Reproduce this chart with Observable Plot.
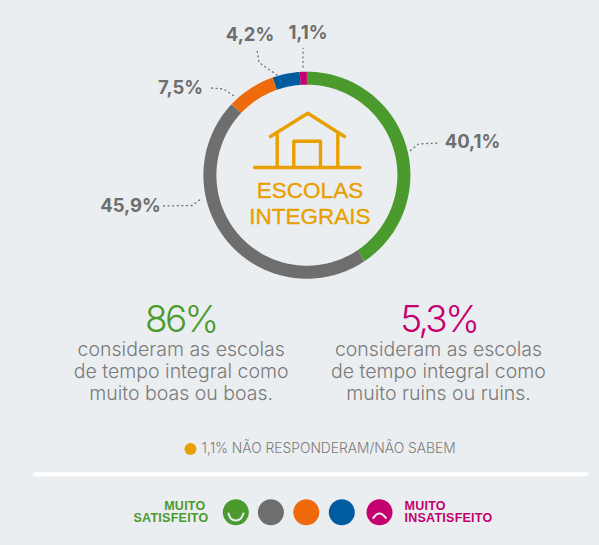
<!DOCTYPE html>
<html><head><meta charset="utf-8">
<script src="https://cdn.jsdelivr.net/npm/d3@7"></script>
<script src="https://cdn.jsdelivr.net/npm/@observablehq/plot@0.6"></script>
<style>html,body{margin:0;padding:0;background:#EBEEF1;overflow:hidden}svg{display:block}
.stat text{letter-spacing:-2.6px}.legend-label text{letter-spacing:.25px}</style>
</head><body><div id="chart"></div>
<script>
const categories = ["Muito satisfeito","Satisfeito","Nem satisfeito nem insatisfeito","Insatisfeito","Muito insatisfeito"];
const values = [40.1,45.9,7.5,4.2,1.1];
const colors = ["#4A9A2E","#6E6E6E","#EE6A0A","#005C9E","#C4006E"];
const valueLabels = ["40,1%","45,9%","7,5%","4,2%","1,1%"];
const labelX = [472,130,180,249.5,307.5];
const labelY = [141.5,205.5,88,35,32.5];
const leaders = [
  [[410,150],[418,143.5],[437,142.5]],
  [[199,199.5],[191.5,205],[160,205.5]],
  [[233,95],[223,88.5],[211,87.5]],
  [[276.5,74.5],[258.5,62],[256.5,49]],
  [[302.5,66.5],[302.5,48]]
];
const cx = 306.4, cy = 174.7, ringR = 97, ringW = 13;
const pie = d3.pie().sort(null)(values);
const ring = pie.flatMap((s,i)=>{
  const n = Math.max(2, Math.ceil((s.endAngle-s.startAngle)*180/Math.PI)+1);
  return d3.range(n).map(k=>{
    const a = s.startAngle+(s.endAngle-s.startAngle)*k/(n-1);
    return {cat:categories[i], x:cx+ringR*Math.sin(a), y:cy-ringR*Math.cos(a)};
  });
});
const house = [
  [[270,136],[307.3,112.7],[344,136]],
  [[276.7,134],[276.7,166.7]],
  [[337.3,134],[337.3,166.7]],
  [[293.3,166.7],[293.3,140.7],[320,140.7],[320,166.7]],
  [[254,167],[359.3,167]]
];
const toPaths = ps => ps.flatMap((p,i)=>p.map(([x,y])=>({x,y,i})));
const yellow="#E8A000", grey="#6E6E6E", body="#7A7A7A";
const titleLines=[["ESCOLAS",190],["INTEGRAIS",216.5]];
const statValues=["86%","5,3%"], statColors=[colors[0],colors[4]], statX=[180.3,438.2];
const bodyLeft=["consideram as escolas","de tempo integral como","muito boas ou boas."];
const bodyRight=["consideram as escolas","de tempo integral como","muito ruins ou ruins."];
const bodyX=[180.7,438];
const bodyY=[349,371,393];
const legendX=[235.3,270.4,305.8,341.3,379];
const t=(d,o)=>Plot.text(d,{x:"x",y:"y",text:"t",lineAnchor:"middle",...o});
const plot = Plot.plot({
  width:599,height:545,margin:0,
  style:{background:"#EBEEF1"},
  x:{domain:[0,599],range:[0,599],axis:null},
  y:{domain:[0,545],range:[0,545],axis:null},
  color:{domain:categories,range:colors},
  marks:[
    Plot.line(toPaths(leaders),{x:"x",y:"y",z:"i",stroke:"#6E6E6E",strokeWidth:1.3,strokeDasharray:"1 3.6",strokeLinecap:"round"}),
    Plot.line(ring,{x:"x",y:"y",z:"cat",stroke:"cat",strokeWidth:ringW,strokeLinecap:"butt",strokeLinejoin:"round"}),
    Plot.line(toPaths(house),{x:"x",y:"y",z:"i",stroke:yellow,strokeWidth:3.4,strokeLinecap:"round",strokeLinejoin:"round"}),
    t(valueLabels.map((s,i)=>({t:s,x:labelX[i],y:labelY[i]})),{fill:grey,fontSize:18.5,fontWeight:700,fontFamily:"Inter"}),
    t(titleLines.map(([s,y])=>({t:s,x:309.5,y})),{fill:yellow,stroke:yellow,strokeWidth:0.35,fontSize:22.5,fontWeight:400,fontFamily:"Liberation Sans"}),
    t(statValues.map((s,i)=>({t:s,x:statX[i],y:319.5,c:statColors[i]})),{className:"stat",fill:"c",fontSize:37,fontWeight:300,fontFamily:"Inter"}),
    t(bodyLeft.map((s,i)=>({t:s,x:bodyX[0],y:bodyY[i]})),{fill:body,fontSize:19.5,fontWeight:300,fontFamily:"Inter"}),
    t(bodyRight.map((s,i)=>({t:s,x:bodyX[1],y:bodyY[i]})),{fill:body,fontSize:19.5,fontWeight:300,fontFamily:"Inter"}),
    Plot.dot([{x:190,y:448.5}],{x:"x",y:"y",r:6,fill:yellow}),
    t([{t:"1,1% NÃO RESPONDERAM/NÃO SABEM",x:201,y:448.5}],{textAnchor:"start",fill:body,fontSize:13.8,fontWeight:300,fontFamily:"Inter"}),
    Plot.line([{x:35,y:473.7},{x:586,y:473.7}],{x:"x",y:"y",stroke:"white",strokeWidth:4,strokeLinecap:"round"}),
    Plot.dot(legendX.map((x,i)=>({x,y:511.7,c:categories[i]})),{x:"x",y:"y",r:13,fill:"c"}),
    Plot.line([{x:228,y:513},{x:230.3,y:518},{x:235.3,y:520},{x:240.3,y:518},{x:243,y:513}],{x:"x",y:"y",stroke:"#EBEEF1",strokeWidth:2,curve:"natural"}),
    Plot.line([{x:372.7,y:517.5},{x:376,y:514},{x:379,y:513},{x:382,y:514},{x:385.5,y:517.5}],{x:"x",y:"y",stroke:"#EBEEF1",strokeWidth:2,curve:"natural"}),
    t([{t:"MUITO",x:205,y:505},{t:"SATISFEITO",x:208,y:517.7}],{className:"legend-label",textAnchor:"end",fill:colors[0],fontSize:12.5,fontWeight:700,fontFamily:"Liberation Sans"}),
    t([{t:"MUITO",x:404,y:505},{t:"INSATISFEITO",x:404,y:517.7}],{className:"legend-label",textAnchor:"start",fill:colors[4],fontSize:12.5,fontWeight:700,fontFamily:"Liberation Sans"})
  ]
});
document.getElementById("chart").append(plot);
</script></body></html>
